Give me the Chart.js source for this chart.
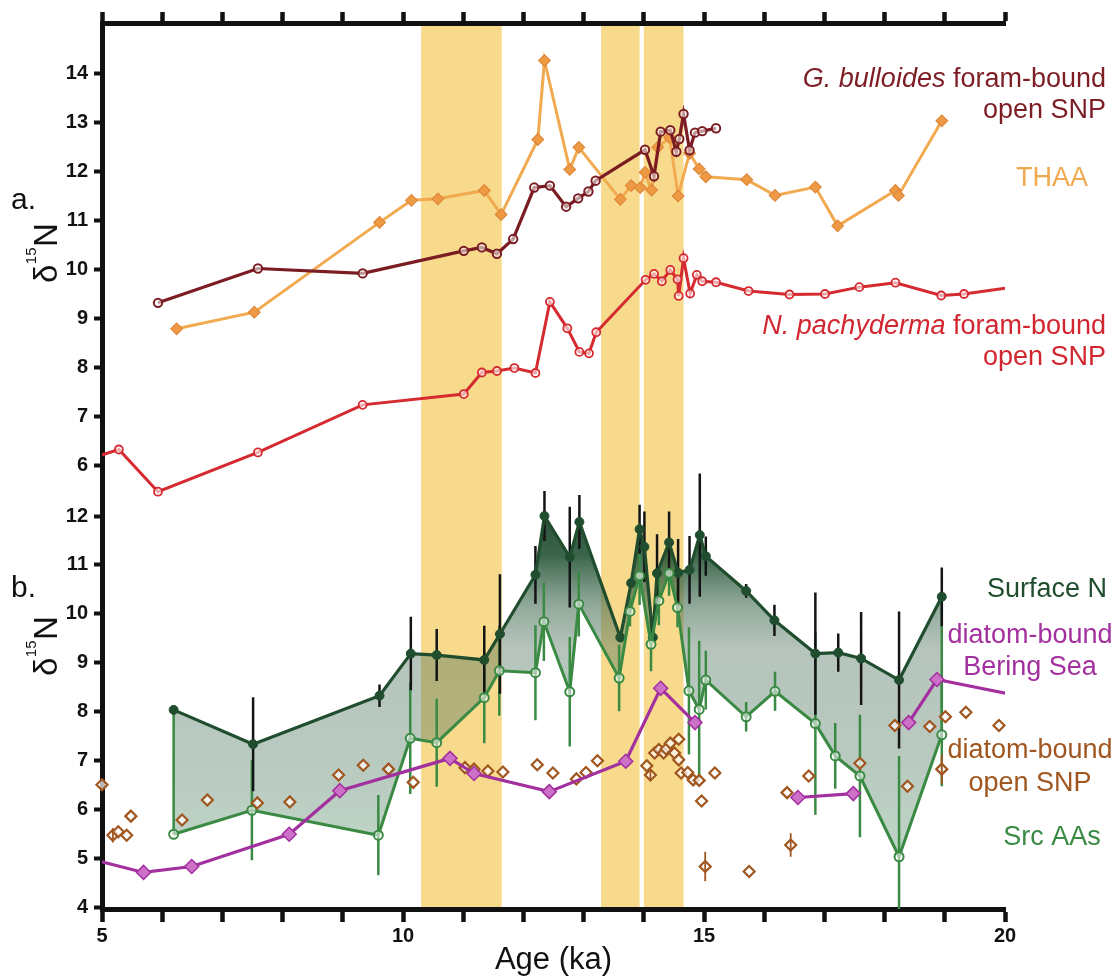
<!DOCTYPE html>
<html>
<head>
<meta charset="utf-8">
<script src="https://cdn.jsdelivr.net/npm/chart.js@4.4.1/dist/chart.umd.min.js"></script>
<style>
  html, body { margin: 0; padding: 0; background: #fff; }
  canvas { display: block; }
</style>
</head>
<body>
<canvas id="chart" width="1115" height="979"></canvas>
<script>
// ---- axes ----
const ageTicks = [5, 6, 7, 8, 9, 10, 11, 12, 13, 14, 15, 16, 17, 18, 19, 20];
const labelledAges = [5, 10, 15, 20];
const upperTicks = [6, 7, 8, 9, 10, 11, 12, 13, 14];
const lowerTicks = [4, 5, 6, 7, 8, 9, 10, 11, 12];
const shadedIntervals = [[10.30, 11.64], [13.29, 13.93], [14.00, 14.66]];

// ---- a. foram-bound and total hydrolysable amino acid records (ka, permil) ----
const bullAge  = [5.93, 7.59, 9.33, 11.01, 11.31, 11.56, 11.83, 12.18, 12.44, 12.71, 12.91, 13.08, 13.20, 14.02, 14.17, 14.28, 14.44, 14.54, 14.59, 14.66, 14.76, 14.85, 14.97, 15.20];
const bullD15N = [9.32, 10.02, 9.92, 10.38, 10.45, 10.32, 10.62, 11.67, 11.71, 11.28, 11.45, 11.59, 11.81, 12.44, 11.90, 12.81, 12.84, 12.40, 12.66, 13.17, 12.43, 12.79, 12.82, 12.88];

const thaaAge  = [6.24, 7.53, 9.61, 10.14, 10.58, 11.35, 11.63, 12.24, 12.35, 12.77, 12.92, 13.61, 13.79, 13.94, 14.02, 14.13, 14.23, 14.43, 14.57, 14.76, 14.92, 15.03, 15.71, 16.18, 16.85, 17.22, 18.18, 18.23, 18.95];
const thaaD15N = [8.79, 9.13, 10.96, 11.41, 11.44, 11.61, 11.12, 12.65, 14.26, 12.04, 12.49, 11.43, 11.71, 11.67, 11.98, 11.62, 12.49, 12.69, 11.50, 12.37, 12.05, 11.89, 11.83, 11.51, 11.68, 10.89, 11.61, 11.51, 13.03];

const pachyAge  = [4.70, 5.28, 5.93, 7.59, 9.33, 11.01, 11.31, 11.56, 11.85, 12.20, 12.44, 12.73, 12.93, 13.09, 13.21, 14.03, 14.17, 14.30, 14.44, 14.56, 14.58, 14.66, 14.77, 14.88, 14.97, 15.20, 15.74, 16.42, 17.01, 17.58, 18.18, 18.94, 19.32, 20.30];
const pachyD15N = [6.10, 6.33, 5.47, 6.27, 7.24, 7.46, 7.90, 7.93, 7.99, 7.89, 9.34, 8.80, 8.32, 8.29, 8.72, 9.79, 9.91, 9.76, 9.99, 9.80, 9.46, 10.23, 9.51, 9.89, 9.76, 9.74, 9.56, 9.49, 9.50, 9.64, 9.73, 9.47, 9.50, 9.67];

// ---- b. surface nitrate, source amino acids and diatom-bound records ----
const surfAge  = [6.19, 7.51, 9.61, 10.13, 10.56, 11.35, 11.61, 12.20, 12.35, 12.77, 12.93, 13.61, 13.79, 13.93, 14.01, 14.15, 14.22, 14.42, 14.57, 14.76, 14.93, 15.03, 15.70, 16.17, 16.85, 17.23, 17.61, 18.24, 18.95];
const surfD15N = [8.04, 7.34, 8.33, 9.19, 9.16, 9.06, 9.59, 10.80, 12.00, 11.16, 11.88, 9.52, 10.63, 11.73, 11.37, 9.52, 10.83, 11.46, 10.84, 10.90, 11.61, 11.18, 10.47, 9.87, 9.19, 9.21, 9.09, 8.65, 10.35];
const surfErr  = [0, 0.96, 0.23, 0.75, 0.53, 0.70, 1.22, 0.59, 0.51, 1.03, 0.55, 0, 0, 0.50, 0.72, 0, 0.80, 0.63, 0.69, 0.69, 1.26, 0.40, 0.14, 0.32, 1.25, 0.39, 0.95, 1.40, 0.60];

const srcAge  = [6.19, 7.49, 9.59, 10.12, 10.56, 11.35, 11.60, 12.20, 12.34, 12.77, 12.92, 13.59, 13.77, 13.93, 14.12, 14.25, 14.42, 14.56, 14.75, 14.92, 15.03, 15.70, 16.18, 16.85, 17.18, 17.59, 18.24, 18.95];
const srcD15N = [5.50, 5.99, 5.48, 7.46, 7.37, 8.29, 8.84, 8.80, 9.84, 8.41, 10.20, 8.69, 10.05, 10.78, 9.38, 10.27, 10.83, 10.13, 8.43, 8.05, 8.65, 7.90, 8.42, 7.76, 7.10, 6.69, 5.04, 7.53];
const srcErr  = [0, 1.02, 0.82, 1.14, 0.90, 0.93, 0.92, 0.97, 0.80, 1.12, 0.66, 0.68, 0.30, 0.60, 0.55, 0.50, 0.46, 0.40, 1.30, 1.40, 0.60, 0.30, 0.40, 1.86, 0.67, 1.25, 2.06, 1.05];

// null marks a break in the Bering Sea record
const beringAge  = [4.70, 5.69, 6.49, 8.11, 8.95, 10.78, 11.18, 12.43, 13.70, 14.28, 14.85, 14.85, 16.56, 17.48, 17.48, 18.40, 18.87, 20.30];
const beringD15N = [5.03, 4.72, 4.84, 5.50, 6.39, 7.05, 6.74, 6.37, 6.99, 8.48, 7.78, null, 6.25, 6.33, null, 7.78, 8.66, 8.31];

const diatomAge  = [5.00, 5.18, 5.27, 5.41, 5.48, 6.33, 6.75, 7.58, 8.12, 8.93, 9.34, 9.76, 10.17, 11.03, 11.18, 11.41, 11.66, 12.23, 12.49, 12.88, 13.04, 13.23, 14.05, 14.11, 14.18, 14.25, 14.33, 14.37, 14.44, 14.51, 14.58, 14.58, 14.62, 14.73, 14.82, 14.92, 14.96, 15.02, 15.18, 15.75, 16.38, 16.44, 16.74, 17.59, 18.17, 18.38, 18.75, 18.95, 19.01, 19.35, 19.90];
const diatomD15N = [6.51, 5.48, 5.55, 5.48, 5.87, 5.79, 6.20, 6.14, 6.16, 6.71, 6.91, 6.83, 6.56, 6.86, 6.83, 6.79, 6.77, 6.92, 6.75, 6.63, 6.76, 7.00, 6.90, 6.71, 7.16, 7.23, 7.16, 7.24, 7.36, 7.16, 7.44, 7.02, 6.75, 6.76, 6.61, 6.60, 6.18, 4.84, 6.75, 4.74, 6.35, 5.28, 6.69, 6.95, 7.72, 6.48, 7.70, 6.83, 7.90, 7.99, 7.72];
const diatomErr  = [0, 0.15, 0, 0, 0, 0, 0, 0, 0, 0, 0, 0, 0, 0, 0, 0, 0, 0, 0, 0, 0, 0, 0, 0.12, 0, 0, 0, 0, 0, 0, 0, 0, 0, 0, 0, 0, 0, 0.30, 0, 0, 0, 0.24, 0, 0, 0, 0, 0, 0.30, 0, 0, 0];

// ---- helpers ----
const FONT = '"Liberation Sans", Arial, Helvetica, sans-serif';
const INK = '#111111';

const points = (ages, vals) => ages.map((x, i) => ({ x, y: vals[i] }));

// vertical whisker segments, separated by gaps
function whiskers(ages, vals, errs) {
  const out = [];
  ages.forEach((x, i) => {
    if (errs[i] > 0 && vals[i] !== null) {
      out.push({ x, y: vals[i] - errs[i] }, { x, y: vals[i] + errs[i] }, { x, y: null });
    }
  });
  return out;
}

// closing edges of the band between surface N and source amino acids
function bandEdges() {
  const a = 0, s = srcAge.length - 1, t = surfAge.length - 1;
  return [
    { x: srcAge[a], y: srcD15N[a] }, { x: surfAge[a], y: surfD15N[a] }, { x: srcAge[a], y: null },
    { x: srcAge[s], y: srcD15N[s] }, { x: surfAge[t], y: surfD15N[t] }
  ];
}

function bandFill(context) {
  const chart = context.chart;
  const yB = chart.scales && chart.scales.yB;
  if (!chart.chartArea || !yB) return 'rgba(80,120,95,0.4)';
  const top = yB.getPixelForValue(12.4);
  const bottom = yB.getPixelForValue(4.0);
  const g = chart.ctx.createLinearGradient(0, top, 0, bottom);
  const stop = (v, c) => g.addColorStop((yB.getPixelForValue(v) - top) / (bottom - top), c);
  stop(12.4, 'rgba(20,62,36,0.95)');
  stop(11.2, 'rgba(32,80,50,0.88)');
  stop(10.2, 'rgba(70,110,85,0.6)');
  stop(9.3, 'rgba(80,115,95,0.42)');
  stop(7.0, 'rgba(80,122,98,0.40)');
  stop(4.0, 'rgba(85,150,105,0.36)');
  return g;
}

const fixedWidth = w => s => { s.width = w; };
const fixedHeight = h => s => { s.height = h; };
const useTicks = values => s => { s.ticks = values.map(v => ({ value: v })); };

const tickFont = { family: FONT, size: 20, weight: 'bold' };

function xAxis(position, height, tickLength, showLabels) {
  return {
    type: 'linear', position, min: 5, max: 20,
    afterBuildTicks: useTicks(ageTicks),
    afterFit: fixedHeight(height),
    grid: { drawOnChartArea: false, drawTicks: true, tickLength, tickWidth: 4.5, tickColor: INK },
    border: { display: true, width: 5, color: INK },
    ticks: {
      autoSkip: false, maxRotation: 0, minRotation: 0, padding: 2, color: INK, font: tickFont,
      callback: v => (showLabels && labelledAges.includes(v)) ? String(v) : ''
    }
  };
}

function yAxis(min, max, values, width, weight) {
  return {
    type: 'linear', position: 'left', min, max, weight,
    afterBuildTicks: useTicks(values),
    afterFit: fixedWidth(width),
    grid: { drawOnChartArea: false, drawTicks: true, tickLength: 8, tickWidth: 4, tickColor: INK },
    border: { display: true, width: 5, color: INK },
    ticks: { autoSkip: false, padding: 6, color: INK, font: tickFont, callback: v => String(v) }
  };
}

// both value axes share the strip left of the plot
const sharedAxisPlugin = {
  id: 'sharedAxis',
  afterLayout(chart) {
    const yA = chart.scales.yA, yB = chart.scales.yB;
    yB.left = yA.left;
    yB.right = chart.chartArea.left;
    yB.width = yB.right - yB.left;
  }
};

// shaded intervals behind everything
const shadingPlugin = {
  id: 'shading',
  beforeDraw(chart) {
    const { ctx, chartArea: a, scales: { x } } = chart;
    ctx.save();
    ctx.fillStyle = 'rgb(247,218,140)';
    shadedIntervals.forEach(([s, e]) => {
      const x0 = x.getPixelForValue(s), x1 = x.getPixelForValue(e);
      ctx.fillRect(x0, a.top, x1 - x0, a.bottom - a.top);
    });
    ctx.restore();
  }
};

function drawRuns(ctx, runs, x, y, align, size) {
  const fonts = runs.map(r => (r.italic ? 'italic ' : '') + size + 'px ' + FONT);
  const widths = runs.map((r, k) => { ctx.font = fonts[k]; return ctx.measureText(r.text).width; });
  const total = widths.reduce((p, q) => p + q, 0);
  let cx = align === 'right' ? x - total : align === 'center' ? x - total / 2 : x;
  runs.forEach((r, k) => { ctx.font = fonts[k]; ctx.fillText(r.text, cx, y); cx += widths[k]; });
}

function drawDelta(ctx, x, y) {
  ctx.save();
  ctx.translate(x, y);
  ctx.rotate(-Math.PI / 2);
  ctx.fillStyle = INK;
  ctx.font = '33px ' + FONT;
  ctx.fillText('δ', 0, 0);
  let w = ctx.measureText('δ').width + 0.5;
  ctx.font = '15px ' + FONT;
  ctx.fillText('15', w, -21);
  w += ctx.measureText('15').width + 0.5;
  ctx.font = '33px ' + FONT;
  ctx.fillText('N', w, 0);
  ctx.restore();
}

const seriesNotes = [
  { color: '#7d1e26', align: 'right', x: 1106, lines: [[{ text: 'G. bulloides', italic: true }, { text: ' foram-bound' }], [{ text: 'open SNP' }]], y: [87, 118] },
  { color: '#f0a94f', align: 'center', x: 1052, lines: [[{ text: 'THAA' }]], y: [186] },
  { color: '#d22630', align: 'right', x: 1106, lines: [[{ text: 'N. pachyderma', italic: true }, { text: ' foram-bound' }], [{ text: 'open SNP' }]], y: [334, 365] },
  { color: '#1f4d2e', align: 'center', x: 1047, lines: [[{ text: 'Surface N' }]], y: [597] },
  { color: '#a3309f', align: 'center', x: 1030, lines: [[{ text: 'diatom-bound' }], [{ text: 'Bering Sea' }]], y: [643, 675] },
  { color: '#a0561f', align: 'center', x: 1030, lines: [[{ text: 'diatom-bound' }], [{ text: 'open SNP' }]], y: [758, 791] },
  { color: '#3a8a44', align: 'center', x: 1052, lines: [[{ text: 'Src AAs' }]], y: [845] }
];

const annotationPlugin = {
  id: 'annotations',
  afterDraw(chart) {
    const ctx = chart.ctx;
    ctx.save();
    ctx.textAlign = 'left';
    ctx.textBaseline = 'alphabetic';
    ctx.fillStyle = INK;
    ctx.font = '30px ' + FONT;
    ctx.fillText('a.', 11, 209);
    ctx.fillText('b.', 11, 597);
    drawDelta(ctx, 57, 283);
    drawDelta(ctx, 57, 676);
    seriesNotes.forEach(n => {
      ctx.fillStyle = n.color;
      n.lines.forEach((runs, k) => drawRuns(ctx, runs, n.x, n.y[k], n.align, 27));
    });
    ctx.restore();
  }
};

const C = {
  bull: '#7a1c22', pachy: '#d52a30', thaa: '#f2aa50', thaaPt: '#ee9a44', thaaEdge: '#e0873a',
  surf: '#1f4d2e', src: '#3a8a44', bering: '#a3309f', beringPt: '#cc70c8', diatom: '#a0561f'
};

const line = (extra) => Object.assign({
  type: 'line', xAxisID: 'x', showLine: true, tension: 0, spanGaps: false,
  pointHoverRadius: 0
}, extra);

const datasets = [
  // 0: surface nitrate, filled down to the source amino acids
  line({ label: 'Surface N', yAxisID: 'yB', data: points(surfAge, surfD15N), order: 7,
    borderColor: C.surf, borderWidth: 3.2, pointRadius: 4.5, pointBorderWidth: 1,
    pointBackgroundColor: C.surf, pointBorderColor: C.surf,
    fill: { target: 1 }, backgroundColor: bandFill }),
  // 1: source amino acids
  line({ label: 'Src AAs', yAxisID: 'yB', data: points(srcAge, srcD15N), order: 6,
    borderColor: C.src, borderWidth: 3, pointRadius: 4.5, pointBorderWidth: 2,
    pointBackgroundColor: 'rgba(255,255,255,0.55)', pointBorderColor: C.src, fill: false }),
  line({ label: 'Surface N error', yAxisID: 'yB', data: whiskers(surfAge, surfD15N, surfErr), order: 8,
    borderColor: '#141414', borderWidth: 2.5, pointRadius: 0, fill: false }),
  line({ label: 'Src AAs error', yAxisID: 'yB', data: whiskers(srcAge, srcD15N, srcErr), order: 9,
    borderColor: C.src, borderWidth: 2.5, pointRadius: 0, fill: false }),
  line({ label: 'band edges', yAxisID: 'yB', data: bandEdges(), order: 9,
    borderColor: C.src, borderWidth: 2.5, pointRadius: 0, fill: false }),
  line({ label: 'diatom-bound open SNP error', yAxisID: 'yB', data: whiskers(diatomAge, diatomD15N, diatomErr), order: 5,
    borderColor: C.diatom, borderWidth: 1.8, pointRadius: 0, fill: false }),
  line({ label: 'diatom-bound open SNP', yAxisID: 'yB', data: points(diatomAge, diatomD15N), order: 5,
    showLine: false, pointStyle: 'rectRot', pointRadius: 5.5, pointBorderWidth: 2.2,
    pointBackgroundColor: 'rgba(255,255,255,0.7)', pointBorderColor: C.diatom, clip: false, fill: false }),
  line({ label: 'diatom-bound Bering Sea', yAxisID: 'yB', data: points(beringAge, beringD15N), order: 4,
    borderColor: C.bering, borderWidth: 3.2, pointStyle: 'rectRot', pointRadius: 7, pointBorderWidth: 1.5,
    pointBackgroundColor: C.beringPt, pointBorderColor: C.bering, fill: false }),
  line({ label: 'N. pachyderma', yAxisID: 'yA', data: points(pachyAge, pachyD15N), order: 3,
    borderColor: C.pachy, borderWidth: 3, pointRadius: 4, pointBorderWidth: 1.8,
    pointBackgroundColor: 'rgba(255,255,255,0.6)', pointBorderColor: C.pachy, fill: false }),
  line({ label: 'THAA', yAxisID: 'yA', data: points(thaaAge, thaaD15N), order: 2,
    borderColor: C.thaa, borderWidth: 3, pointStyle: 'rectRot', pointRadius: 5.8, pointBorderWidth: 1.2,
    pointBackgroundColor: C.thaaPt, pointBorderColor: C.thaaEdge, fill: false }),
  line({ label: 'G. bulloides', yAxisID: 'yA', data: points(bullAge, bullD15N), order: 1,
    borderColor: C.bull, borderWidth: 3.2, pointRadius: 4.2, pointBorderWidth: 2,
    pointBackgroundColor: 'rgba(255,255,255,0.55)', pointBorderColor: C.bull, fill: false })
];

new Chart(document.getElementById('chart'), {
  type: 'line',
  data: { datasets },
  plugins: [sharedAxisPlugin, shadingPlugin, annotationPlugin],
  options: {
    responsive: false,
    animation: false,
    devicePixelRatio: 1,
    events: [],
    layout: { padding: { left: 0, right: 110, top: 0, bottom: 0 } },
    plugins: {
      legend: { display: false },
      tooltip: { enabled: false },
      filler: { drawTime: 'beforeDatasetsDraw', propagate: false }
    },
    scales: {
      x: Object.assign(xAxis('bottom', 70, 13, true), {
        title: { display: true, text: 'Age (ka)', color: INK, font: { family: FONT, size: 31 }, padding: { top: 0, bottom: 0 } }
      }),
      xTop: xAxis('top', 23, 11, false),
      yA: yAxis(-3.038, 15.025, upperTicks, 102, 2),
      yB: yAxis(3.973, 22.07, lowerTicks, 0, 1)
    }
  }
});
</script>
</body>
</html>
